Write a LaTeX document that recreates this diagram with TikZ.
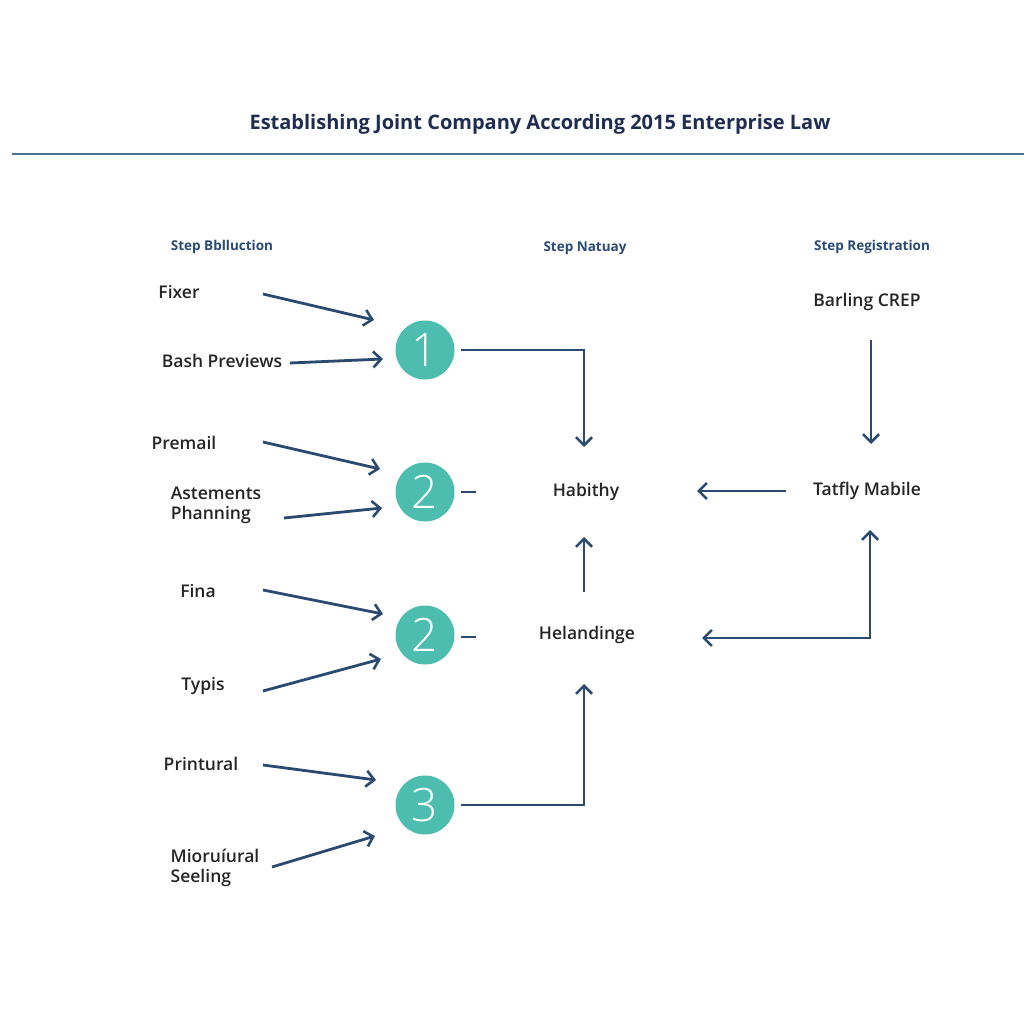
\documentclass[tikz,border=0pt]{standalone}
\usepackage{fontspec}
\setmainfont{Open Sans}
\IfFontExistsTF{Open Sans Semibold}{\newfontfamily\semib{Open Sans Semibold}}{\newcommand\semib{\bfseries}}
\IfFontExistsTF{Open Sans Light}{\newfontfamily\lightf{Open Sans Light}}{\newcommand\lightf{\mdseries}}
\usetikzlibrary{arrows.meta}
\definecolor{navy}{HTML}{1F2D50}
\definecolor{arrowc}{HTML}{2B4A70}
\definecolor{rulec}{HTML}{4F6F8F}
\definecolor{headc}{HTML}{2A4A78}
\definecolor{teal}{HTML}{4DBDB0}
\definecolor{txt}{HTML}{252525}
\tikzset{
  lbl/.style={text=txt, font=\semib\fontsize{17.5}{20}\selectfont, align=left, inner sep=0pt},
  clbl/.style={text=txt, font=\semib\fontsize{17.5}{20}\selectfont, align=center, inner sep=0pt},
  hdr/.style={text=headc, font=\bfseries\fontsize{13.5}{16}\selectfont, inner sep=0pt},
  stepc/.style={circle, fill=teal, minimum size=59pt, inner sep=0pt, text=white, font=\lightf\fontsize{46}{46}\selectfont},
  conn/.style={draw=arrowc, line width=2.8pt, -{Straight Barb[length=8pt,width=16pt,line width=2.6pt]}},
  plain/.style={draw=arrowc, line width=2.8pt},
}
\begin{document}
\begin{tikzpicture}[x=1pt,y=-1pt]
\useasboundingbox (0,0) rectangle (1024,1024);
\fill[white] (0,0) rectangle (1024,1024);
% title
\node[text=navy, font=\bfseries\fontsize{20}{24}\selectfont, inner sep=0pt] (title) at (540,124) {Establishing Joint Company According 2015 Enterprise Law};
\coordinate (rl) at (12,154);
\coordinate (rr) at (1024,154);
\draw[rulec, line width=2.5pt] (rl) -- (rr);
% headers
\node[hdr] (h1) at (222,247) {Step Bblluction};
\node[hdr] (h2) at (585,248) {Step Natuay};
\node[hdr] (h3) at (872,247) {Step Registration};
% left labels
\node[lbl] (fixer) at (179,292) {Fixer};
\node[lbl] (bash) at (222,361) {Bash Previews};
\node[lbl] (premail) at (184,443) {Premail};
\node[lbl] (aste) at (216,505) {Astements\\Phanning};
\node[lbl] (fina) at (198,591) {Fina};
\node[lbl] (typis) at (203,686) {Typis};
\node[lbl] (print) at (201,764) {Printural};
\node[lbl] (mior) at (215,868) {Mioruíural\\Seeling};
% circles
\node[stepc] (c1) at (425,350) {1};
\node[stepc] (c2) at (425,492) {2};
\node[stepc] (c3) at (425,635) {2};
\node[stepc] (c4) at (425,805) {3};
% middle/right nodes
\node[clbl] (hab) at (586,492) {Habithy};
\node[clbl] (hel) at (587,635) {Helandinge};
\node[clbl] (tat) at (867,491) {Tatfly Mabile};
\node[clbl] (bar) at (867,302) {Barling CREP};
% arrow coordinates
\coordinate (a1s) at (263,294); \coordinate (a1e) at (374,320);
\coordinate (a2s) at (290,363); \coordinate (a2e) at (383,359);
\coordinate (a3s) at (263,442); \coordinate (a3e) at (380,469);
\coordinate (a4s) at (284,518); \coordinate (a4e) at (382,508);
\coordinate (a5s) at (263,590); \coordinate (a5e) at (383,614);
\coordinate (a6s) at (263,691); \coordinate (a6e) at (381,659);
\coordinate (a7s) at (263,765); \coordinate (a7e) at (376,780);
\coordinate (a8s) at (272,867); \coordinate (a8e) at (375,836);
\draw[conn] (a1s) -- (a1e);
\draw[conn] (a2s) -- (a2e);
\draw[conn] (a3s) -- (a3e);
\draw[conn] (a4s) -- (a4e);
\draw[conn] (a5s) -- (a5e);
\draw[conn] (a6s) -- (a6e);
\draw[conn] (a7s) -- (a7e);
\draw[conn] (a8s) -- (a8e);
% connectors to middle
\coordinate (k1) at (584,350); \coordinate (k1e) at (584,447);
\draw[conn] (c1.east) ++(6,0) -- (k1) -- (k1e);
\coordinate (d2) at (476,492);
\draw[plain] (c2.east) ++(6,0) -- (d2);
\coordinate (d3) at (476,637);
\draw[plain] (c3.east) ++(6,2) -- (d3);
\coordinate (k4) at (584,805); \coordinate (k4e) at (584,684);
\draw[conn] (c4.east) ++(6,0) -- (k4) -- (k4e);
\coordinate (u1s) at (584,592); \coordinate (u1e) at (584,537);
\draw[conn] (u1s) -- (u1e);
\coordinate (t1s) at (786,491); \coordinate (t1e) at (697,491);
\draw[conn] (t1s) -- (t1e);
\coordinate (b1s) at (871,340); \coordinate (b1e) at (871,444);
\draw[conn] (b1s) -- (b1e);
\coordinate (r1) at (870,530); \coordinate (r2) at (870,638); \coordinate (r3) at (702,638);
\draw[draw=arrowc, line width=2.8pt, {Straight Barb[length=8pt,width=16pt,line width=2.6pt]}-{Straight Barb[length=8pt,width=16pt,line width=2.6pt]}] (r1) -- (r2) -- (r3);
\end{tikzpicture}
\end{document}
